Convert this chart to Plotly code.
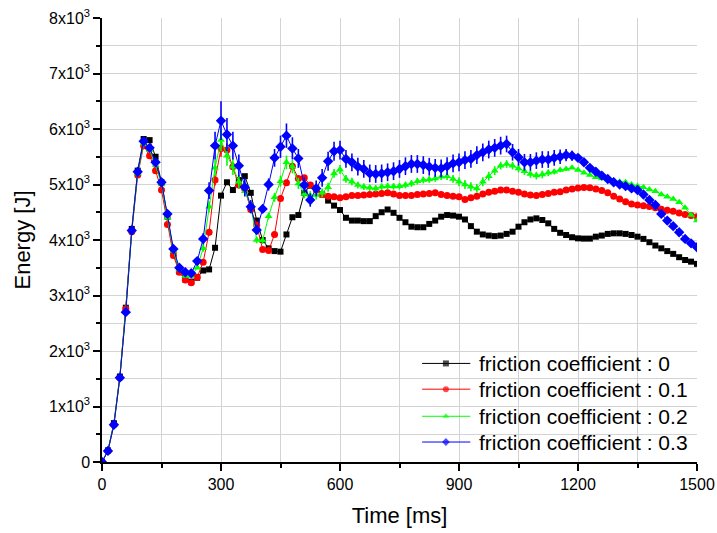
import plotly.graph_objects as go

time_ms = list(range(0, 1501, 15))

energy_mu0 = [0, 210, 700, 1540, 2780, 4200, 5250, 5820, 5800, 5500,
              5040, 4420, 3800, 3430, 3290, 3250, 3320, 3450, 3470, 3860,
              4800, 5040, 4900, 5080, 5150, 4850, 4350, 4000, 3850, 3800,
              3790, 4100, 4410, 4450, 4850, 4980, 4930, 4820, 4710, 4620,
              4540, 4400, 4350, 4350, 4340, 4340, 4430, 4500, 4550, 4490,
              4400, 4320, 4240, 4230, 4230, 4290, 4350, 4420, 4450, 4440,
              4420, 4370, 4250, 4150, 4100, 4080, 4070, 4080, 4110, 4150,
              4240, 4320, 4370, 4390, 4360, 4300, 4200, 4130, 4090, 4050,
              4030, 4025, 4025, 4060, 4080, 4110, 4120, 4120, 4110, 4090,
              4060, 4020, 3960, 3900, 3850, 3800, 3750, 3690, 3640, 3610,
              3570]

energy_mu01 = [0, 200, 670, 1520, 2760, 4150, 5170, 5700, 5520, 5250,
               4900, 4280, 3720, 3420, 3280, 3230, 3330, 3600, 4140, 5080,
               5650, 5620, 5320, 4990, 4920, 4550, 4270, 3830, 3810, 4100,
               4750, 5030, 5330, 5110, 5120, 4990, 4900, 4820, 4790, 4780,
               4760, 4780, 4800, 4800, 4810, 4820, 4830, 4840, 4850, 4830,
               4800, 4800, 4800, 4820, 4830, 4840, 4850, 4820, 4800, 4790,
               4780, 4730, 4760, 4790, 4830, 4860, 4880, 4900, 4900, 4880,
               4860, 4830, 4810, 4800, 4820, 4840, 4860, 4870, 4900, 4920,
               4935, 4945, 4940, 4920, 4890, 4850, 4790, 4740, 4690, 4650,
               4630, 4615, 4605, 4580, 4555, 4535, 4520, 4485, 4460, 4440,
               4420]

energy_mu02 = [0, 200, 670, 1520, 2720, 4160, 5200, 5740, 5620, 5350,
               5000, 4400, 3800, 3470, 3350, 3350, 3500, 3850, 4600, 5300,
               5800, 5520, 5320, 5050, 4880, 4620, 4000, 3990, 4430, 4770,
               5060, 5400, 5320, 5020, 4830, 4800, 4810, 4850, 4950, 5200,
               5270, 5100, 5050, 4990, 4960, 4940, 4930, 4960, 4970, 4965,
               4970, 4990, 5020, 5060, 5080, 5090, 5110, 5140, 5150, 5100,
               5050, 5000, 4960, 4930, 5050, 5150, 5250, 5340, 5370, 5340,
               5290, 5240, 5190, 5160, 5180, 5210, 5230, 5260, 5280, 5300,
               5260, 5210, 5170, 5130, 5110, 5090, 5070, 5050, 5040, 5000,
               4975, 4950, 4910, 4880, 4820, 4780, 4740, 4680, 4580, 4450,
               4350]

energy_mu03 = [0, 200, 670, 1520, 2700, 4170, 5230, 5780, 5660, 5400,
               5040, 4470, 3840, 3500, 3420, 3400, 3620, 4020, 4890, 5700,
               6150, 5900, 5700, 5340, 4950, 4600, 4180, 4560, 5000, 5480,
               5680, 5880, 5650, 5470, 4990, 4720, 4930, 5120, 5420, 5600,
               5620, 5460, 5400, 5320, 5280, 5200, 5190, 5200, 5220, 5240,
               5280, 5330, 5370, 5370, 5350, 5320, 5300, 5290, 5330, 5380,
               5400, 5440, 5460, 5530, 5580, 5630, 5660, 5700, 5730, 5580,
               5490, 5400, 5400, 5430, 5450, 5450, 5480, 5500, 5530, 5520,
               5480, 5400, 5300, 5230, 5160, 5100, 5040, 5000, 4970, 4930,
               4900, 4820, 4720, 4630, 4470, 4350, 4250, 4140, 4020, 3940,
               3870]

# half-amplitude of the fast oscillation visible on each curve
osc_mu0 = [0] * 101
osc_mu01 = [0] * 18 + [60, 100, 150, 120, 80, 60, 40] + [0] * 76
osc_mu02 = ([0] * 17 + [60, 100, 150, 200, 180, 150, 120, 100, 80, 60, 60, 60,
                        80, 100, 120, 120, 100, 80, 80, 80, 80, 80, 80, 80,
                        70, 70, 60, 60, 60, 60, 60, 60, 60, 60, 60, 60, 60, 60,
                        60, 60, 60, 70, 70, 80, 80, 80, 80, 80, 80, 80, 70, 70,
                        70, 70, 70, 70, 70, 70, 60, 50, 40, 30]
            + [0] * 24)
osc_mu03 = ([0] * 17 + [100, 150, 250, 350, 300, 250, 200, 160, 120, 70, 70,
                        110, 160, 200, 220, 200, 170, 140, 120, 140, 160, 170,
                        170, 170, 160, 160, 160, 160, 160, 160, 160, 160, 160,
                        160, 160, 160, 160, 160, 160, 160, 160, 160, 160, 160,
                        160, 160, 160, 160, 160, 160, 160, 150, 150, 150, 150,
                        150, 150, 150, 150, 140, 130, 110, 90, 70, 50, 30]
            + [0] * 18)

series_names = ["friction coefficient : 0", "friction coefficient : 0.1",
                "friction coefficient : 0.2", "friction coefficient : 0.3"]
series_values = [energy_mu0, energy_mu01, energy_mu02, energy_mu03]
series_osc = [osc_mu0, osc_mu01, osc_mu02, osc_mu03]
colors = ["#000000", "#ff0000", "#00ff00", "#0000ff"]
symbols = ["square", "circle", "triangle-up", "diamond"]
sizes = [6, 7, 7, 8]

y_tickvals = [0, 1000, 2000, 3000, 4000, 5000, 6000, 7000, 8000]
y_ticktext = ["0"] + [f"{v // 1000}x10<sup>3</sup>" for v in y_tickvals[1:]]
x_tickvals = [0, 300, 600, 900, 1200, 1500]

# key layout (fractions of the plot area)
key_rows = [0.222, 0.164, 0.103, 0.045]
key_line_x = [0.538, 0.578, 0.619]
key_text_x = 0.630

fig = go.Figure()
for name, vals, osc, c, s, sz in zip(series_names, series_values, series_osc,
                                     colors, symbols, sizes):
    fig.add_trace(go.Scatter(
        x=time_ms, y=vals, name=name, mode="lines+markers", showlegend=False,
        line=dict(color=c, width=1),
        marker=dict(color=c, symbol=s, size=sz, line=dict(width=0)),
        error_y=dict(type="data", array=osc, symmetric=True, color=c,
                     thickness=1.6, width=0, visible=True),
    ))

# key: sample line + symbol drawn on an overlay axis spanning the plot area,
# label as text
for name, c, s, ky in zip(series_names, colors, symbols, key_rows):
    fig.add_trace(go.Scatter(
        x=key_line_x, y=[ky] * 3, xaxis="x2", yaxis="y2",
        mode="lines+markers", showlegend=False, hoverinfo="skip",
        line=dict(color=c, width=1),
        marker=dict(color=c, symbol=s, size=[0, 6, 0], line=dict(width=0)),
    ))
    fig.add_annotation(
        x=key_text_x, y=ky, xref="x2", yref="y2", text=name,
        showarrow=False, xanchor="left", yanchor="middle",
        font=dict(size=21, color="black"),
    )

font_family = "Arial, Liberation Sans, sans-serif"
fig.update_layout(
    width=717, height=533,
    margin=dict(l=102, r=20, t=18, b=71, autoexpand=False),
    paper_bgcolor="white", plot_bgcolor="white",
    font=dict(family=font_family, color="black", size=16),
    showlegend=False,
    xaxis2=dict(overlaying="x", range=[0, 1], visible=False, fixedrange=True),
    yaxis2=dict(overlaying="y", range=[0, 1], visible=False, fixedrange=True),
)
fig.update_xaxes(
    selector=dict(anchor="y"),
    range=[0, 1500], tickvals=x_tickvals, ticks="outside", ticklen=7,
    tickwidth=1.5, tickcolor="black", automargin=False,
    showline=True, linecolor="black", linewidth=1.5,
    showgrid=True, gridcolor="#d3d3d3", gridwidth=1, zeroline=False,
    minor=dict(dtick=150, ticks="outside", ticklen=4, tickcolor="black",
               showgrid=True, gridcolor="#d3d3d3", gridwidth=1),
    title=dict(text="Time [ms]", font=dict(size=22), standoff=16),
    tickfont=dict(size=16),
)
fig.update_layout(yaxis=dict(
    range=[0, 8000], tickvals=y_tickvals, ticktext=y_ticktext,
    ticks="outside", ticklen=7, tickwidth=1.5, tickcolor="black",
    automargin=False,
    showline=True, linecolor="black", linewidth=1.5,
    showgrid=True, gridcolor="#d3d3d3", gridwidth=1, zeroline=False,
    minor=dict(dtick=500, ticks="outside", ticklen=4, tickcolor="black",
               showgrid=True, gridcolor="#d3d3d3", gridwidth=1),
    title=dict(text="Energy [J]", font=dict(size=22), standoff=12),
    tickfont=dict(size=16),
))
fig.update_layout(xaxis=dict(
    range=[0, 1500], tickvals=x_tickvals, ticks="outside", ticklen=7,
    tickwidth=1.5, tickcolor="black", automargin=False,
    showline=True, linecolor="black", linewidth=1.5,
    showgrid=True, gridcolor="#d3d3d3", gridwidth=1, zeroline=False,
    minor=dict(dtick=150, ticks="outside", ticklen=4, tickcolor="black",
               showgrid=True, gridcolor="#d3d3d3", gridwidth=1),
    title=dict(text="Time [ms]", font=dict(size=22), standoff=16),
    tickfont=dict(size=16),
))

fig.write_html("out.html")
